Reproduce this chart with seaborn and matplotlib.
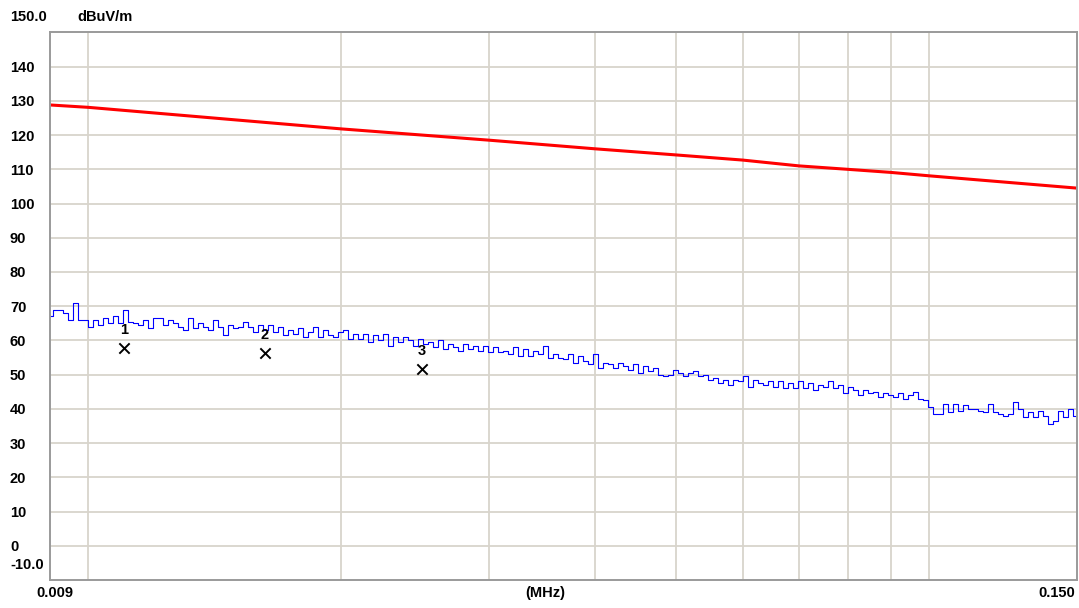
import numpy as np
import pandas as pd
import matplotlib
matplotlib.use("Agg")
import matplotlib.pyplot as plt
import seaborn as sns

# ---------------- data ----------------
f_start, f_stop = 0.009, 0.150  # MHz

# limit line (dBuV/m) read at frequencies (MHz)
limit_freq = [0.009, 0.010, 0.020, 0.030, 0.040, 0.050, 0.060, 0.070, 0.080, 0.090, 0.100, 0.150]
limit_level = [128.8, 128.1, 121.8, 118.5, 116.0, 114.2, 112.7, 111.0, 110.0, 109.1, 108.1, 104.5]

# measured trace (dBuV/m), evenly spaced sweep points on the log axis
trace_level = [
    67.0, 69.0, 69.0, 68.0, 66.0, 71.0, 66.0, 66.0, 64.0, 66.0,
    64.5, 66.5, 65.0, 67.0, 65.0, 69.0, 65.5, 65.0, 64.5, 66.0,
    63.5, 66.5, 66.5, 64.5, 66.0, 65.0, 64.0, 63.0, 66.5, 63.5,
    65.0, 64.0, 63.0, 66.0, 64.0, 61.5, 64.5, 63.5, 64.0, 65.5,
    64.0, 62.5, 64.5, 63.0, 64.5, 62.5, 64.0, 61.5, 63.0, 62.0,
    63.5, 61.0, 62.5, 64.0, 61.0, 63.0, 61.5, 61.0, 62.5, 63.0,
    60.5, 62.0, 60.5, 62.0, 59.5, 61.5, 60.0, 62.0, 58.5, 61.0,
    59.5, 61.0, 60.0, 58.5, 60.5, 59.0, 59.5, 58.0, 60.0, 57.5,
    59.0, 58.0, 57.0, 59.0, 57.5, 58.5, 57.0, 58.5, 56.5, 58.0,
    56.5, 57.0, 56.0, 58.0, 55.5, 57.5, 55.5, 57.0, 56.0, 58.5,
    55.0, 56.0, 55.0, 54.5, 56.0, 53.5, 55.5, 54.0, 53.0, 56.0,
    52.0, 53.5, 53.0, 52.0, 53.5, 52.5, 51.5, 53.0, 50.5, 52.5,
    51.0, 52.0, 50.0, 49.5, 50.0, 51.5, 50.5, 49.5, 50.5, 51.0,
    49.5, 50.0, 48.5, 49.0, 47.5, 48.5, 47.0, 48.5, 48.0, 49.5,
    46.5, 48.5, 47.5, 47.0, 48.0, 46.5, 48.0, 46.0, 47.5, 46.0,
    48.0, 46.0, 47.5, 45.5, 47.0, 46.5, 48.0, 46.0, 47.0, 44.5,
    46.5, 45.5, 44.0, 45.5, 44.5, 45.0, 43.5, 44.5, 44.0, 43.5,
    44.5, 43.0, 44.0, 45.0, 43.0, 42.5, 40.5, 38.5, 38.5, 41.5,
    39.0, 41.5, 39.5, 41.0, 40.0, 40.0, 39.5, 39.0, 41.5, 39.0,
    38.5, 38.0, 38.5, 42.0, 40.0, 37.5, 39.0, 37.5, 39.5, 38.0,
    35.5, 36.5, 39.5, 37.5, 40.0, 38.0,
]
trace_freq = np.geomspace(f_start, 0.1494, len(trace_level))

# markers
marker_id = ["1", "2", "3"]
marker_freq = [0.01102, 0.01622, 0.02491]
marker_level = [57.7, 56.2, 51.7]

y_ticks = [0, 10, 20, 30, 40, 50, 60, 70, 80, 90, 100, 110, 120, 130, 140]
x_grid = [0.01, 0.02, 0.03, 0.04, 0.05, 0.06, 0.07, 0.08, 0.09, 0.1]

# ---------------- plot ----------------
sns.set_theme(style="white")
plt.rcParams["font.family"] = ["Liberation Sans", "DejaVu Sans"]

W, H = 1079, 608
fig = plt.figure(figsize=(W / 100, H / 100), dpi=100)
ax = fig.add_axes([50 / W, 1 - 580 / H, (1077 - 50) / W, (580 - 32.4) / H])

ax.set_xscale("log")
ax.set_xlim(f_start, f_stop)
ax.set_ylim(-10, 150)

grid_c = "#d8d4cc"
ax.set_xticks(x_grid)
ax.set_xticks([], minor=True)
ax.set_yticks(y_ticks)
ax.grid(True, which="major", color=grid_c, linewidth=1.3)
ax.set_axisbelow(True)
ax.tick_params(axis="both", length=0)
ax.set_xticklabels([])
ax.set_yticklabels([str(v) for v in y_ticks], fontsize=10.5, fontweight="bold", color="black")
for lab in ax.get_yticklabels():
    lab.set_horizontalalignment("left")
ax.tick_params(axis="y", pad=40 * 72 / 100)

for s in ax.spines.values():
    s.set_color("#9a9a9a")
    s.set_linewidth(1.4)

limit_df = pd.DataFrame({"f": limit_freq, "v": limit_level})
trace_df = pd.DataFrame({"f": trace_freq, "v": trace_level})
mark_df = pd.DataFrame({"f": marker_freq, "v": marker_level, "id": marker_id})

sns.lineplot(data=limit_df, x="f", y="v", ax=ax, color="#ff0000", linewidth=2.2, sort=False, estimator=None)
sns.lineplot(data=trace_df, x="f", y="v", ax=ax, color="#0000ff", linewidth=0.8, sort=False,
             estimator=None, drawstyle="steps-mid")
sns.scatterplot(data=mark_df, x="f", y="v", ax=ax, marker="x", color="black", s=55, linewidth=1.4, zorder=5)
for _, r in mark_df.iterrows():
    ax.annotate(r["id"], (r["f"], r["v"]), xytext=(0, 13), textcoords="offset points",
                ha="center", va="center", fontsize=10.5, fontweight="bold", color="black")

ax.set_xlabel("")
ax.set_ylabel("")

tk = dict(fontsize=10.5, fontweight="bold", color="black", va="center")
fig.text(10 / W, 1 - 17 / H, "150.0", ha="left", **tk)
fig.text(77 / W, 1 - 17 / H, "dBuV/m", ha="left", **tk)
fig.text(10 / W, 1 - 565 / H, "-10.0", ha="left", **tk)
fig.text(55 / W, 1 - 593 / H, "0.009", ha="center", **tk)
fig.text(545 / W, 1 - 593 / H, "(MHz)", ha="center", **tk)
fig.text(1075 / W, 1 - 593 / H, "0.150", ha="right", **tk)

fig.savefig("out.png", dpi=100)
